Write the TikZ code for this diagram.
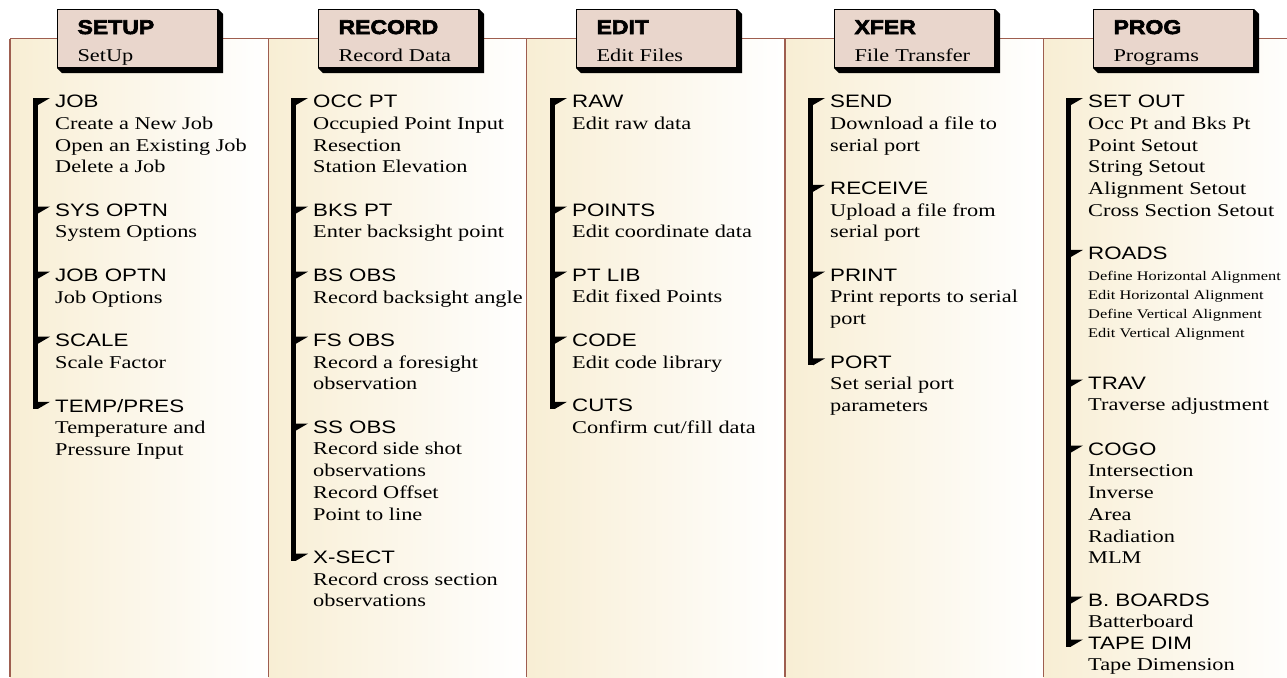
\documentclass[tikz,border=0pt]{standalone}
\usepackage{fontspec}
\setmainfont[FakeStretch=1.24]{Liberation Serif}
\setsansfont[FakeStretch=1.24]{Liberation Sans}
\newfontfamily\headfont[FakeStretch=1.15,FakeBold=3]{Liberation Sans Bold}
\usetikzlibrary{positioning,calc}
\definecolor{panelcream}{HTML}{F8EED4}
\definecolor{panelline}{HTML}{9E5E50}
\definecolor{headfill}{HTML}{E9D6CC}
\tikzset{
    panel line/.style={panelline,line width=1.5pt},
    top line/.style={panelline,line width=1pt},
    head box/.style={draw=black,line width=1.1pt,fill=headfill,anchor=north west,
        minimum width=160pt,minimum height=58pt,text width=120pt,inner xsep=20pt,inner ysep=1.5pt,
        align=left,text height=21.8pt,text depth=30.8pt,font=\fontsize{18}{27}\selectfont},
    item/.style={anchor=north west,inner sep=0pt,align=left,font=\fontsize{18}{21.7}\selectfont},
    small item/.style={item,font=\fontsize{13.2}{19.3}\selectfont},
    flag/.pic={\fill (0,0) -- (12pt,0) -- (0,-7pt) -- cycle;},
}

\begin{document}
\begin{tikzpicture}[x=1pt,y=-1pt]
    \useasboundingbox (0,0) rectangle (1287,677);
    % panels
    \foreach \x in {10,268.3,526.6,785,1043.3}{
        \shade[left color=panelcream,right color=white] (\x,39) rectangle ++(258.3,638);
        \draw[panel line] (\x,39) -- (\x,677);
    }
    \draw[top line] (10,39) -- (1287,39);
    % headers
    \foreach \nm/\x/\ttl/\subt in {setup/57/SETUP/SetUp,record/318/RECORD/Record Data,
        edit/576/EDIT/Edit Files,xfer/834/XFER/File Transfer,prog/1093/PROG/Programs}{
        \node[head box] (\nm) at (\x,9) {{\headfont\fontsize{20}{27}\selectfont \ttl}\\\subt};
        \fill (\nm.north east) -- ++(5,5) -- ([shift={(5,5)}]\nm.south east)
            -- ([shift={(5,5)}]\nm.south west) -- (\nm.south west) -- (\nm.south east) -- cycle;
    }
    % SETUP
    \node[item] (job) at (55,95) {{\sffamily JOB}\\Create a New Job\\Open an Existing Job\\Delete a Job};
    \node[item] (sysoptn) at (55,203.5) {{\sffamily SYS OPTN}\\System Options};
    \node[item] (joboptn) at (55,268.6) {{\sffamily JOB OPTN}\\Job Options};
    \node[item] (scalef) at (55,333.7) {{\sffamily SCALE}\\Scale Factor};
    \node[item] (temppres) at (55,398.8) {{\sffamily TEMP/PRES}\\Temperature and\\Pressure Input};
    % RECORD
    \node[item] (occpt) at (313,95) {{\sffamily OCC PT}\\Occupied Point Input\\Resection\\Station Elevation};
    \node[item] (bkspt) at (313,203.5) {{\sffamily BKS PT}\\Enter backsight point};
    \node[item] (bsobs) at (313,268.6) {{\sffamily BS OBS}\\Record backsight angle};
    \node[item] (fsobs) at (313,333.7) {{\sffamily FS OBS}\\Record a foresight\\observation};
    \node[item] (ssobs) at (313,420.5) {{\sffamily SS OBS}\\Record side shot\\observations\\Record Offset\\Point to line};
    \node[item] (xsect) at (313,550.7) {{\sffamily X-SECT}\\Record cross section\\observations};
    % EDIT
    \node[item] (raw) at (572,95) {{\sffamily RAW}\\Edit raw data};
    \node[item] (points) at (572,203.5) {{\sffamily POINTS}\\Edit coordinate data};
    \node[item] (ptlib) at (572,268.6) {{\sffamily PT LIB}\\Edit fixed Points};
    \node[item] (code) at (572,333.7) {{\sffamily CODE}\\Edit code library};
    \node[item] (cuts) at (572,398.8) {{\sffamily CUTS}\\Confirm cut/fill data};
    % XFER
    \node[item] (send) at (830,95) {{\sffamily SEND}\\Download a file to\\serial port};
    \node[item] (receive) at (830,181.8) {{\sffamily RECEIVE}\\Upload a file from\\serial port};
    \node[item] (print) at (830,268.6) {{\sffamily PRINT}\\Print reports to serial\\port};
    \node[item] (port) at (830,355.4) {{\sffamily PORT}\\Set serial port\\parameters};
    % PROG
    \node[item] (setout) at (1088,95) {{\sffamily SET OUT}\\Occ Pt and Bks Pt\\Point Setout\\String Setout\\Alignment Setout\\Cross Section Setout};
    \node[item] (roads) at (1088,246.9) {\sffamily ROADS};
    \node[small item] (roadsd) at ([yshift=-10.5pt]roads.south west) {Define Horizontal Alignment\\Edit Horizontal Alignment\\Define Vertical Alignment\\Edit Vertical Alignment};
    \node[item] (trav) at (1088,376.5) {{\sffamily TRAV}\\Traverse adjustment};
    \node[item] (cogo) at (1088,442.5) {{\sffamily COGO}\\Intersection\\Inverse\\Area\\Radiation\\MLM};
    \node[item] (bboards) at (1088,593.5) {{\sffamily B. BOARDS}\\Batterboard};
    \node[item] (tapedim) at (1088,636.5) {{\sffamily TAPE DIM}\\Tape Dimension};
    % brackets
    \foreach \a/\b in {job/temppres,occpt/xsect,raw/cuts,send/port,setout/tapedim}
        \fill ([shift={(-22,3)}]\a.north west) rectangle ([shift={(-17,10)}]\b.north west);
    \foreach \n in {job,sysoptn,joboptn,scalef,temppres,occpt,bkspt,bsobs,fsobs,ssobs,xsect,
        raw,points,ptlib,code,cuts,send,receive,print,port,setout,roads,trav,cogo,bboards,tapedim}
        \pic at ([shift={(-17,3)}]\n.north west) {flag};
\end{tikzpicture}
\end{document}
